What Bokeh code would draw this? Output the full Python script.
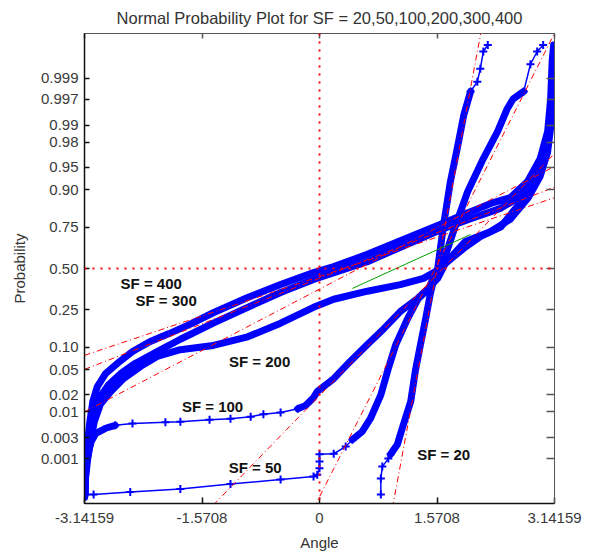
import math
import numpy as np
from bokeh.plotting import figure
from bokeh.models import Range1d, LinearAxis, FixedTicker, CustomJSTickFormatter, ColumnDataSource, Span
from bokeh.core.properties import value
from bokeh.embed import file_html
from bokeh.resources import INLINE

# ---------------- data ----------------
title_text = "Normal Probability Plot for SF = 20,50,100,200,300,400"
prob_ticks = [0.001, 0.003, 0.01, 0.02, 0.05, 0.10, 0.25, 0.50, 0.75, 0.90, 0.95, 0.98, 0.99, 0.997, 0.999]
prob_tick_labels = ["0.001", "0.003", "0.01", "0.02", "0.05", "0.10", "0.25", "0.50",
                    "0.75", "0.90", "0.95", "0.98", "0.99", "0.997", "0.999"]
angle_ticks = [-math.pi, -math.pi / 2, 0.0, math.pi / 2, math.pi]
angle_tick_labels = ["-3.14159", "-1.5708", "0", "1.5708", "3.14159"]

# SF = 20
sf20_lo_a = [0.82, 0.82, 0.84, 0.92]
sf20_lo_p = [0.00012, 0.00032, 0.00064, 0.0010]
sf20_a = [0.95, 1.04, 1.12, 1.22, 1.28, 1.35, 1.42, 1.48, 1.52, 1.58, 1.66, 1.75, 1.84, 1.93, 2.02]
sf20_p = [0.00126, 0.0021, 0.0055, 0.0154, 0.047, 0.108, 0.209, 0.337, 0.417, 0.5, 0.764, 0.921, 0.974, 0.9938, 0.998]
sf20_hi_a = [2.11, 2.15, 2.19, 2.25]
sf20_hi_p = [0.9988, 0.99942, 0.99979, 0.99986]

# SF = 50
sf50_lo_a = [-3.13, -3.02, -2.53, -1.86, -1.19, -0.52, -0.08, -0.03, 0.0, 0.0, 0.0, 0.19, 0.35]
sf50_lo_p = [0.00012, 0.00012, 0.00014, 0.00017, 0.00023, 0.0003, 0.00036, 0.0004, 0.00058, 0.00085, 0.00126, 0.0013, 0.0019]
sf50_a = [0.44, 0.57, 0.68, 0.82, 0.92, 1.02, 1.18, 1.32, 1.46, 1.52, 1.68, 1.79, 1.98, 2.19, 2.38, 2.51, 2.59, 2.73]
sf50_p = [0.0027, 0.004, 0.0073, 0.020, 0.052, 0.108, 0.209, 0.312, 0.371, 0.436, 0.579, 0.726, 0.894, 0.963, 0.987, 0.9953, 0.9971, 0.998]
sf50_hi_a = [2.82, 2.91, 2.99]
sf50_hi_p = [0.99955, 0.99979, 0.99986]

# SF = 100
sf100_lo_a = [-3.13, -3.13, -3.12, -3.09, -3.05, -2.99, -2.86, -2.73]
sf100_lo_p = [0.00012, 0.0003, 0.0007, 0.0014, 0.0025, 0.0037, 0.0047, 0.0054]
sf100_mid_a = [-2.73, -2.50, -2.06, -1.86, -1.47, -1.19, -0.92, -0.75, -0.52, -0.29]
sf100_mid_p = [0.0054, 0.0059, 0.0062, 0.0064, 0.0070, 0.0073, 0.008, 0.0089, 0.0096, 0.0113]
sf100_a = [-0.29, -0.19, -0.08, -0.03, 0.19, 0.41, 0.64, 0.86, 1.08, 1.31, 1.44, 1.58, 1.68, 1.95,
           2.29, 2.55, 2.79, 2.95, 3.05, 3.10, 3.13, 3.14]
sf100_p = [0.0113, 0.0129, 0.0179, 0.0228, 0.0367, 0.0655, 0.108, 0.164, 0.242, 0.312, 0.367, 0.436, 0.532, 0.67,
           0.726, 0.788, 0.875, 0.933, 0.971, 0.9916, 0.998, 0.99962]

# SF = 200
sf200_a = [-3.14, -3.13, -3.10, -3.06, -3.01, -2.93, -2.79, -2.63, -2.39, -2.17, -1.86, -1.42, -0.96, -0.52,
           -0.08, 0.19, 0.64, 1.08, 1.39, 1.55, 1.93, 2.15, 2.42, 2.59, 2.86, 2.99, 3.06, 3.11, 3.13, 3.14]
sf200_p = [0.0001, 0.0003, 0.00094, 0.0025, 0.0064, 0.0136, 0.0228, 0.0359, 0.0559, 0.0764, 0.0934, 0.1056,
           0.1335, 0.187, 0.264, 0.3085, 0.356, 0.397, 0.436, 0.48, 0.629, 0.698, 0.749, 0.824, 0.907, 0.954,
           0.984, 0.9967, 0.99931, 0.99985]

# SF = 300
sf300_a = [-3.14, -3.13, -3.10, -3.06, -3.01, -2.93, -2.82, -2.66, -2.46, -2.17, -1.86, -1.42, -0.96, -0.52,
           -0.08, 0.64, 1.26, 1.62, 2.02, 2.42, 2.69, 2.89, 3.01, 3.07, 3.11, 3.13, 3.14]
sf300_p = [0.00017, 0.00048, 0.0014, 0.004, 0.0099, 0.0188, 0.0294, 0.0436, 0.0618, 0.0885, 0.125, 0.187, 0.264,
           0.348, 0.429, 0.544, 0.67, 0.736, 0.791, 0.836, 0.879, 0.926, 0.966, 0.9896, 0.998, 0.99948, 0.99979]

# SF = 400
sf400_a = [-3.14, -3.13, -3.10, -3.07, -3.03, -2.97, -2.86, -2.67, -2.50, -2.27, -2.01, -1.74, -1.42, -0.96,
           -0.52, -0.08, 0.19, 0.64, 1.26, 1.62, 1.93, 2.29, 2.55, 2.78, 2.95, 3.05, 3.09, 3.11, 3.13]
sf400_p = [0.00027, 0.00085, 0.0025, 0.0064, 0.0154, 0.0274, 0.0436, 0.0655, 0.0885, 0.117, 0.145, 0.181, 0.236,
           0.319, 0.397, 0.474, 0.512, 0.591, 0.705, 0.764, 0.81, 0.855, 0.875, 0.921, 0.963, 0.987, 0.9971,
           0.99962, 0.99986]

# reference (fit) lines: two end points each
fit_a = [[0.975, 2.166], [-0.075, 3.17], [-1.42, 3.14], [-3.14159, 3.14159], [-3.14159, 3.14159], [-3.14159, 3.14159]]
fit_p = [[0.00005, 0.99995], [0.00005, 0.99995], [0.00006, 0.969], [0.0099, 0.9515], [0.0505, 0.907], [0.079, 0.875]]
green_a = [0.44, 2.02]
green_p = [0.373, 0.71]

label_text = ["SF = 400", "SF = 300", "SF = 200", "SF = 100", "SF = 50", "SF = 20"]
label_a = [-2.25, -2.05, -0.80, -1.43, -0.86, 1.66]
label_p = [0.404, 0.30, 0.0655, 0.0125, 0.0006, 0.00126]

median_prob = 0.5
zero_angle = 0.0


# ---------------- normal probability scale ----------------
def norm_ppf(p):
    p = np.atleast_1d(np.asarray(p, dtype=float))
    a = [-3.969683028665376e+01, 2.209460984245205e+02, -2.759285104469687e+02,
         1.383577518672690e+02, -3.066479806614716e+01, 2.506628277459239e+00]
    b = [-5.447609879822406e+01, 1.615858368580409e+02, -1.556989798598866e+02,
         6.680131188771972e+01, -1.328068155288572e+01]
    c = [-7.784894002430293e-03, -3.223964580411365e-01, -2.400758277161838e+00,
         -2.549671010229583e+00, 4.374664141464968e+00, 2.938163982698783e+00]
    d = [7.784695709041462e-03, 3.224671290700398e-01, 2.445134137142996e+00, 3.754408661907416e+00]
    plow = 0.02425
    out = np.empty_like(p)
    lo = p < plow
    hi = p > 1 - plow
    mid = ~(lo | hi)
    q = np.sqrt(-2 * np.log(p[lo]))
    out[lo] = (((((c[0]*q+c[1])*q+c[2])*q+c[3])*q+c[4])*q+c[5]) / ((((d[0]*q+d[1])*q+d[2])*q+d[3])*q+1)
    q = p[mid] - 0.5
    r = q * q
    out[mid] = (((((a[0]*r+a[1])*r+a[2])*r+a[3])*r+a[4])*r+a[5])*q / (((((b[0]*r+b[1])*r+b[2])*r+b[3])*r+b[4])*r+1)
    q = np.sqrt(-2 * np.log(1 - p[hi]))
    out[hi] = -(((((c[0]*q+c[1])*q+c[2])*q+c[3])*q+c[4])*q+c[5]) / ((((d[0]*q+d[1])*q+d[2])*q+d[3])*q+1)
    return out


BLUE = "#0000ff"
RED = "#ff0000"
FONT = "Liberation Sans"

p = figure(frame_width=470, frame_height=470,
           x_range=Range1d(-math.pi, math.pi), y_range=Range1d(-3.82, 3.82),
           output_backend="svg", toolbar_location=None,
           min_border_left=84, min_border_right=30, min_border_top=33, min_border_bottom=50,
           background_fill_color="white", border_fill_color="white")
p.grid.visible = False
p.outline_line_color = "#333333"

p.title.text = title_text
p.title.align = "center"
p.title.text_font = FONT
p.title.text_font_size = "16.5px"
p.title.text_font_style = "normal"
p.title.text_color = "#333333"
p.title.standoff = 13

fmt_code = """
let best = 0; let d = 1e9;
for (let i = 0; i < tv.length; i++) { const e = Math.abs(tv[i] - tick); if (e < d) { d = e; best = i; } }
return tl[best];
"""
y_tick_vals = [float(v) for v in norm_ppf(prob_ticks)]


def style_axis(ax, ticks, labels, show, tick_in, line_color, line_width):
    ax.ticker = FixedTicker(ticks=list(ticks), minor_ticks=[])
    ax.major_tick_in = tick_in
    ax.major_tick_out = 0
    ax.minor_tick_line_color = None
    ax.major_tick_line_color = line_color
    ax.major_tick_line_width = 1.5
    ax.axis_line_color = line_color
    ax.axis_line_width = line_width
    if show:
        ax.formatter = CustomJSTickFormatter(args=dict(tv=list(ticks), tl=list(labels)), code=fmt_code)
        ax.major_label_text_font = FONT
        ax.major_label_text_font_size = "15px"
        ax.major_label_text_color = "#3a3a3a"
    else:
        ax.formatter = CustomJSTickFormatter(code="return '';")
        ax.major_label_text_font_size = "1px"
        ax.major_label_standoff = 0


xb = p.xaxis[0]
yl = p.yaxis[0]
style_axis(xb, angle_ticks, angle_tick_labels, True, 6, "#111111", 1.5)
style_axis(yl, y_tick_vals, prob_tick_labels, True, 5, "#111111", 1.5)
xb.major_label_standoff = 9
yl.major_label_standoff = 6
xb.axis_label = "Angle"
yl.axis_label = "Probability"
for ax in (xb, yl):
    ax.axis_label_text_font = FONT
    ax.axis_label_text_font_size = "15px"
    ax.axis_label_text_font_style = "normal"
    ax.axis_label_text_color = "#333333"
xb.axis_label_standoff = 8
yl.axis_label_standoff = 10

xt = LinearAxis()
style_axis(xt, angle_ticks, angle_tick_labels, False, 5, "#555555", 1)
p.add_layout(xt, "above")
yr = LinearAxis()
style_axis(yr, y_tick_vals, prob_tick_labels, False, 8, "#555555", 1)
p.add_layout(yr, "right")

# ---------------- data marks ----------------
dense = [(sf20_a, sf20_p), (sf50_a, sf50_p), (sf100_lo_a, sf100_lo_p), (sf100_a, sf100_p),
         (sf200_a, sf200_p), (sf300_a, sf300_p), (sf400_a, sf400_p)]
sparse = [(sf20_lo_a + sf20_a[:1], sf20_lo_p + sf20_p[:1]), (sf20_a[-1:] + sf20_hi_a, sf20_p[-1:] + sf20_hi_p),
          (sf50_lo_a + sf50_a[:1], sf50_lo_p + sf50_p[:1]), (sf50_a[-1:] + sf50_hi_a, sf50_p[-1:] + sf50_hi_p),
          (sf100_mid_a, sf100_mid_p)]

for xs, ps in sparse:
    zs = norm_ppf(ps)
    p.line(xs, zs, line_color=BLUE, line_width=1.5)
    p.scatter(xs, zs, marker="cross", size=8, line_color=BLUE, line_width=2)

for xs, ps in dense:
    zs = norm_ppf(ps)
    p.line(xs, zs, line_color=BLUE, line_width=7, line_join="round", line_cap="round")

# reference lines
p.multi_line(xs=fit_a, ys=[list(norm_ppf(v)) for v in fit_p], line_color=RED, line_width=1,
             line_dash="6 3 1 3")
p.line(green_a, norm_ppf(green_p), line_color="#00a000", line_width=1)

p.add_layout(Span(location=float(norm_ppf([median_prob])[0]), dimension="width", line_color=RED,
                  line_width=2, line_dash="2 6"))
p.add_layout(Span(location=zero_angle, dimension="height", line_color=RED, line_width=2, line_dash="2 6"))

src = ColumnDataSource(dict(x=label_a, y=list(norm_ppf(label_p)), t=label_text))
p.text(x="x", y="y", text="t", source=src, text_font=value(FONT), text_font_style="bold",
       text_font_size="15px", text_align="center", text_baseline="middle", text_color="#111111")

open("out.html", "w").write(file_html(p, INLINE))
